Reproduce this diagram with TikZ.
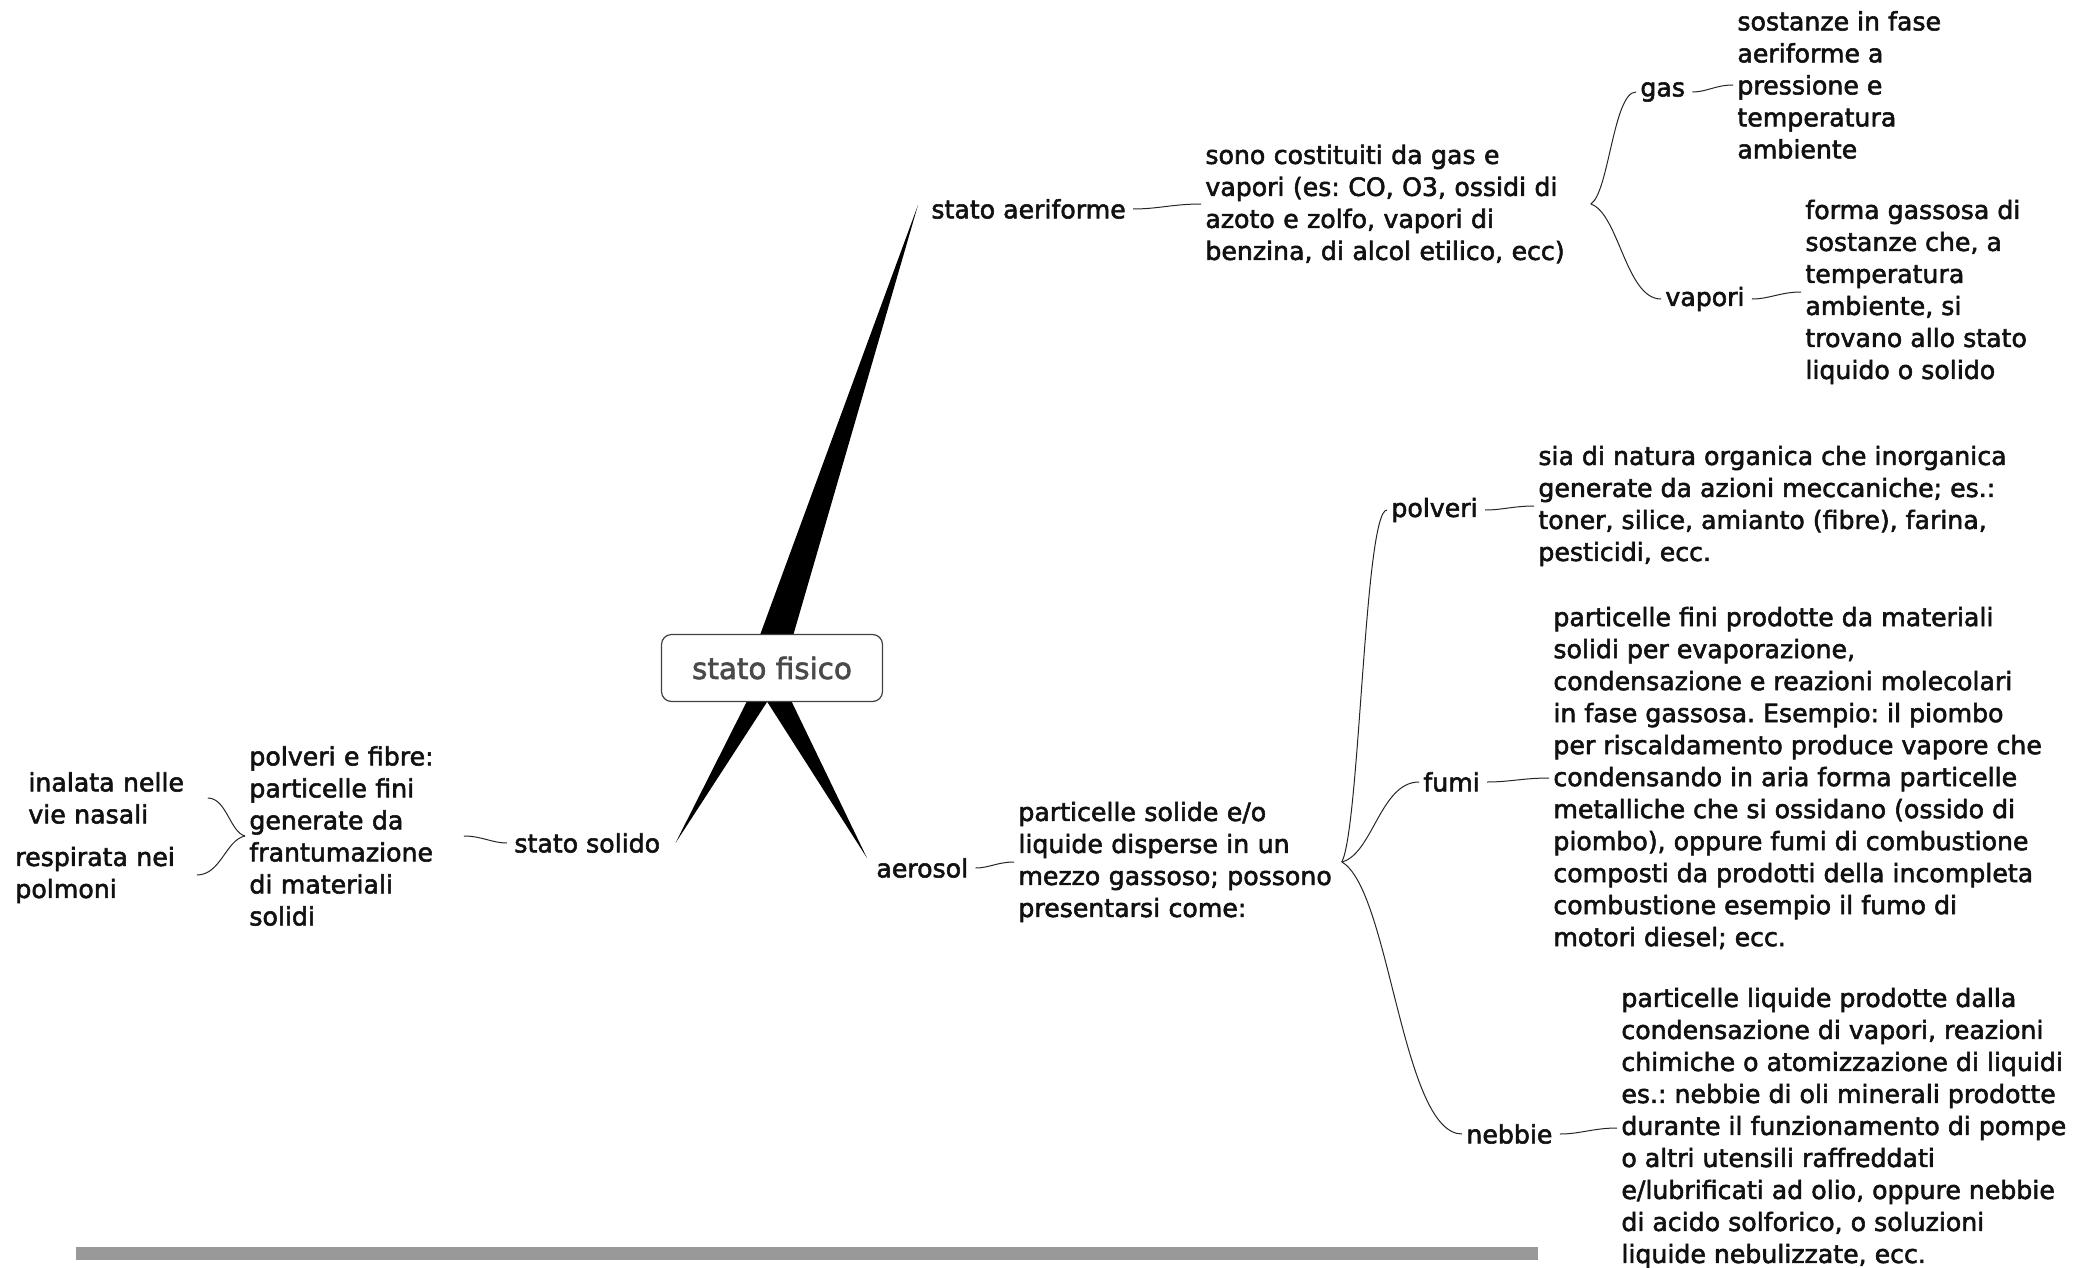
\documentclass[tikz,border=0pt]{standalone}
\usepackage{fontspec}
\setmainfont{DejaVu Sans}
\newfontfamily\topicfont[FakeBold=2.2]{DejaVu Sans}
\usetikzlibrary{calc}
\definecolor{ink}{HTML}{111111}
\definecolor{rootink}{HTML}{4A4A4A}
\definecolor{barfill}{HTML}{999999}
\begin{document}
\frenchspacing
\begin{tikzpicture}[x=0.5pt,y=-0.5pt,
  txt/.style={inner sep=2pt, font=\topicfont\fontsize{12.6}{16}\selectfont, text=ink, align=left, anchor=west},
  root/.style={draw=black!75, line width=0.6pt, rounded corners=5pt, fill=white,
    minimum width=110.5pt, minimum height=33.5pt, inner sep=0pt,
    font=\topicfont\fontsize{14.7}{18}\selectfont, text=rootink},
  link/.style={draw=black!85, line width=0.5pt},
  tilde/.style={link, shorten <=1.5pt},
  wedge/.style={fill=black},
  brace/.style={to path={let \p1=(\tikztostart), \p2=(\tikztotarget) in
    .. controls ({\x1+0.4*(\x2-\x1)},{\y1+0.1*(\y2-\y1)}) and ({\x1+0.5*(\x2-\x1)},{\y2}) .. (\tikztotarget)}},
]
\useasboundingbox (0,0) rectangle (2092,1268);

% ---- upper branch: stato aeriforme
\node[txt] (sa) at (927,209) {stato aeriforme};
\node[txt, text width=190.5pt] (sono) at (1201,204) {sono costituiti da gas e\\vapori (es: CO, O3, ossidi di\\azoto e zolfo, vapori di\\benzina, di alcol etilico, ecc)};
\node[txt] (gas) at (1636,92) {gas};
\node[txt] (sos) at (1733,85) {sostanze in fase\\aeriforme a\\pressione e\\temperatura\\ambiente};
\node[txt] (vap) at (1661,299) {vapori};
\node[txt] (fg) at (1801,292) {forma gassosa di\\sostanze che, a\\temperatura\\ambiente, si\\trovano allo stato\\liquido o solido};

% ---- lower left branch: stato solido
\node[txt] (ss) at (510,843) {stato solido};
\node[txt, text width=105pt] (pf) at (245,836) {polveri e fibre:\\particelle fini\\generate da\\frantumazione\\di materiali\\solidi};
\node[txt, text width=87.5pt] (in) at (24,798) {inalata nelle\\vie nasali};
\node[txt, text width=88.5pt] (re) at (11,875) {respirata nei\\polmoni};

% ---- lower right branch: aerosol
\node[txt] (ae) at (872,868) {aerosol};
\node[txt, text width=159.5pt] (ps) at (1014,862) {particelle solide e/o\\liquide disperse in un\\mezzo gassoso; possono\\presentarsi come:};
\node[txt] (pol) at (1387,510) {polveri};
\node[txt] (poltxt) at (1534,506) {sia di natura organica che inorganica\\generate da azioni meccaniche; es.:\\toner, silice, amianto (fibre), farina,\\pesticidi, ecc.};
\node[txt] (fumi) at (1419,782) {fumi};
\node[txt] (fumitxt) at (1549,778) {particelle fini prodotte da materiali\\solidi per evaporazione,\\condensazione e reazioni molecolari\\in fase gassosa. Esempio: il piombo\\per riscaldamento produce vapore che\\condensando in aria forma particelle\\metalliche che si ossidano (ossido di\\piombo), oppure fumi di combustione\\composti da prodotti della incompleta\\combustione esempio il fumo di\\motori diesel; ecc.};
\node[txt] (neb) at (1462,1134) {nebbie};
\node[txt] (nebtxt) at (1617,1128) {particelle liquide prodotte dalla\\condensazione di vapori, reazioni\\chimiche o atomizzazione di liquidi\\es.: nebbie di oli minerali prodotte\\durante il funzionamento di pompe\\o altri utensili raffreddati\\e/lubrificati ad olio, oppure nebbie\\di acido solforico, o soluzioni\\liquide nebulizzate, ecc.};

% ---- tapered main branches, drawn under the central topic
\coordinate (rc) at (772,668);
\coordinate (oA) at ($(rc)+(-6,0)$);
\coordinate (oS) at ($(rc)+(4,0)$);
\coordinate (oE) at ($(rc)+(-11,0)$);
\coordinate (tipA) at ($(sa.west)+(-9,-4)$);
\coordinate (tipS) at ($(ss.east)+(11,0)$);
\coordinate (tipE) at ($(ae.west)+(-5,-10)$);
\fill[wedge] (tipA) -- ($(oA)!8.5pt!90:(tipA)$) -- ($(oA)!8.5pt!-90:(tipA)$) -- cycle;
\fill[wedge] (tipS) -- ($(oS)!5.5pt!90:(tipS)$) -- ($(oS)!5.5pt!-90:(tipS)$) -- cycle;
\fill[wedge] (tipE) -- ($(oE)!6.5pt!90:(tipE)$) -- ($(oE)!6.5pt!-90:(tipE)$) -- cycle;

\node[root] (root) at (rc) {stato fisico};

% ---- connectors
\draw[tilde] (sa.east) to[out=0,in=180] (sono.west);
\draw[link] (sono.east) to[brace] (gas.west);
\draw[link] (sono.east) to[brace] (vap.west);
\draw[tilde] (gas.east) to[out=0,in=180] (sos.west);
\draw[tilde] (vap.east) to[out=0,in=180] (fg.west);

\draw[tilde] (ss.west) to[out=180,in=0] (pf.east);
\draw[link] (pf.west) to[brace] (in.east);
\draw[link] (pf.west) to[brace] (re.east);

\draw[tilde] (ae.east) to[out=0,in=180] (ps.west);
\draw[link] (ps.east) to[brace] (pol.west);
\draw[link] (ps.east) to[brace] (fumi.west);
\draw[link] (ps.east) to[brace] (neb.west);
\draw[tilde] (pol.east) to[out=0,in=180] (poltxt.west);
\draw[tilde] (fumi.east) to[out=0,in=180] (fumitxt.west);
\draw[tilde] (neb.east) to[out=0,in=180] (nebtxt.west);

% ---- footer bar
\fill[barfill] (76,1247) rectangle (1538,1260);
\end{tikzpicture}
\end{document}
